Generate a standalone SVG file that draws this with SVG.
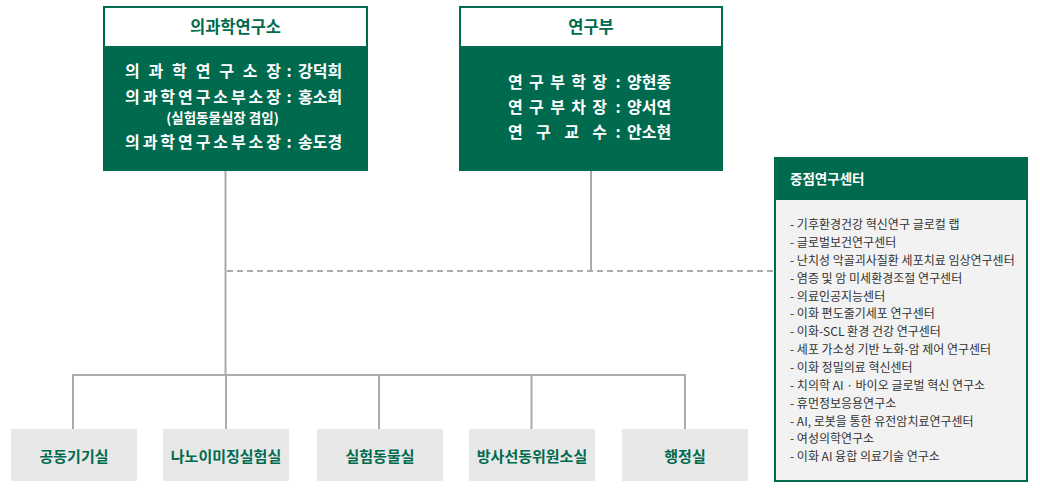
<svg xmlns="http://www.w3.org/2000/svg" width="1040" height="493" viewBox="0 0 1040 493">
<style>
text{font-family:"Noto Sans CJK KR","Noto Sans",sans-serif}
.hd{fill:#fff;stroke:#006a4e;stroke-width:2}
.bd{fill:#006a4e}
.ttl{font-size:16.5px;font-weight:700;fill:#006a4e;text-anchor:middle}
.wt{font-size:16px;font-weight:700;fill:#fff}
.sm{font-size:13.5px;font-weight:700;fill:#fff}
.ln{stroke:#ababab;stroke-width:2;fill:none}
.dash{stroke:#ababab;stroke-width:2;stroke-dasharray:6 4;fill:none}
.unit{fill:#e8e8e8}
.ut{font-size:15px;font-weight:700;fill:#006a4e;text-anchor:middle}
.li{font-size:12px;fill:#333}
</style>
<g id="connectors">
<line class="ln" x1="225.5" y1="170" x2="225.5" y2="375"/>
<line class="ln" x1="591" y1="170" x2="591" y2="271"/>
<line class="dash" x1="227" y1="271" x2="774" y2="271"/>
<line class="ln" x1="73" y1="375" x2="686" y2="375"/>
<line class="ln" x1="73" y1="374" x2="73" y2="429"/>
<line class="ln" x1="226" y1="374" x2="226" y2="429"/>
<line class="ln" x1="379" y1="374" x2="379" y2="429"/>
<line class="ln" x1="531.5" y1="374" x2="531.5" y2="429"/>
<line class="ln" x1="685" y1="374" x2="685" y2="429"/>
</g>
<g id="institute">
<rect class="bd" x="103" y="6" width="265" height="165"/>
<rect class="hd" x="104" y="7" width="263" height="40"/>
<text class="ttl" x="235.5" y="32.5">의과학연구소</text>
<text class="wt" x="125" y="77" textLength="156" lengthAdjust="spacing">의 과 학 연 구 소 장</text>
<text class="wt" x="289" y="77" text-anchor="middle">:</text>
<text class="wt" x="298" y="77">강덕희</text>
<text class="wt" x="125" y="102.5" textLength="156" lengthAdjust="spacing">의과학연구소부소장</text>
<text class="wt" x="289" y="102.5" text-anchor="middle">:</text>
<text class="wt" x="298" y="102.5">홍소희</text>
<text class="sm" x="222.5" y="123.3" text-anchor="middle">(실험동물실장 겸임)</text>
<text class="wt" x="125" y="147.5" textLength="156" lengthAdjust="spacing">의과학연구소부소장</text>
<text class="wt" x="289" y="147.5" text-anchor="middle">:</text>
<text class="wt" x="298" y="147.5">송도경</text>
</g>
<g id="research">
<rect class="bd" x="459" y="6" width="264" height="165"/>
<rect class="hd" x="460" y="7" width="262" height="40"/>
<text class="ttl" x="591" y="32.5">연구부</text>
<text class="wt" x="508" y="87.5" textLength="99" lengthAdjust="spacing">연 구 부 학 장</text>
<text class="wt" x="618" y="87.5" text-anchor="middle">:</text>
<text class="wt" x="627" y="87.5">양현종</text>
<text class="wt" x="508" y="113" textLength="99" lengthAdjust="spacing">연 구 부 차 장</text>
<text class="wt" x="618" y="113" text-anchor="middle">:</text>
<text class="wt" x="627" y="113">양서연</text>
<text class="wt" x="508" y="137.5" textLength="99" lengthAdjust="spacing">연 구 교 수</text>
<text class="wt" x="618" y="137.5" text-anchor="middle">:</text>
<text class="wt" x="627" y="137.5">안소현</text>
</g>
<g id="centers">
<rect x="775" y="158" width="252" height="323" fill="#f2f2f2" stroke="#006a4e" stroke-width="2"/>
<rect class="bd" x="774" y="157" width="254" height="43"/>
<text x="790" y="184" font-size="13.5" font-weight="700" fill="#fff">중점연구센터</text>
<text class="li" x="790" y="229.2">- 기후환경건강 혁신연구 글로컬 랩</text>
<text class="li" x="790" y="247">- 글로벌보건연구센터</text>
<text class="li" x="790" y="264.9">- 난치성 악골괴사질환 세포치료 임상연구센터</text>
<text class="li" x="790" y="282.7">- 염증 및 암 미세환경조절 연구센터</text>
<text class="li" x="790" y="300.6">- 의료인공지능센터</text>
<text class="li" x="790" y="318.4">- 이화 편도줄기세포 연구센터</text>
<text class="li" x="790" y="336.3">- 이화-SCL 환경 건강 연구센터</text>
<text class="li" x="790" y="354.2">- 세포 가소성 기반 노화-암 제어 연구센터</text>
<text class="li" x="790" y="372">- 이화 정밀의료 혁신센터</text>
<text class="li" x="790" y="389.8">- 치의학 AI · 바이오 글로벌  혁신 연구소</text>
<text class="li" x="790" y="407.7">- 휴먼정보응용연구소</text>
<text class="li" x="790" y="425.5">- AI, 로봇을 통한 유전암치료연구센터</text>
<text class="li" x="790" y="443.4">- 여성의학연구소</text>
<text class="li" x="790" y="461.2">- 이화 AI 융합 의료기술 연구소</text>
</g>
<g id="unit1"><rect class="unit" x="11" y="429" width="126" height="52"/><text class="ut" x="74" y="462">공동기기실</text></g>
<g id="unit2"><rect class="unit" x="163" y="429" width="126" height="52"/><text class="ut" x="226" y="462">나노이미징실험실</text></g>
<g id="unit3"><rect class="unit" x="317" y="429" width="126" height="52"/><text class="ut" x="380" y="462">실험동물실</text></g>
<g id="unit4"><rect class="unit" x="469" y="429" width="126" height="52"/><text class="ut" x="532" y="462">방사선동위원소실</text></g>
<g id="unit5"><rect class="unit" x="622" y="429" width="126" height="52"/><text class="ut" x="685" y="462">행정실</text></g>
</svg>
